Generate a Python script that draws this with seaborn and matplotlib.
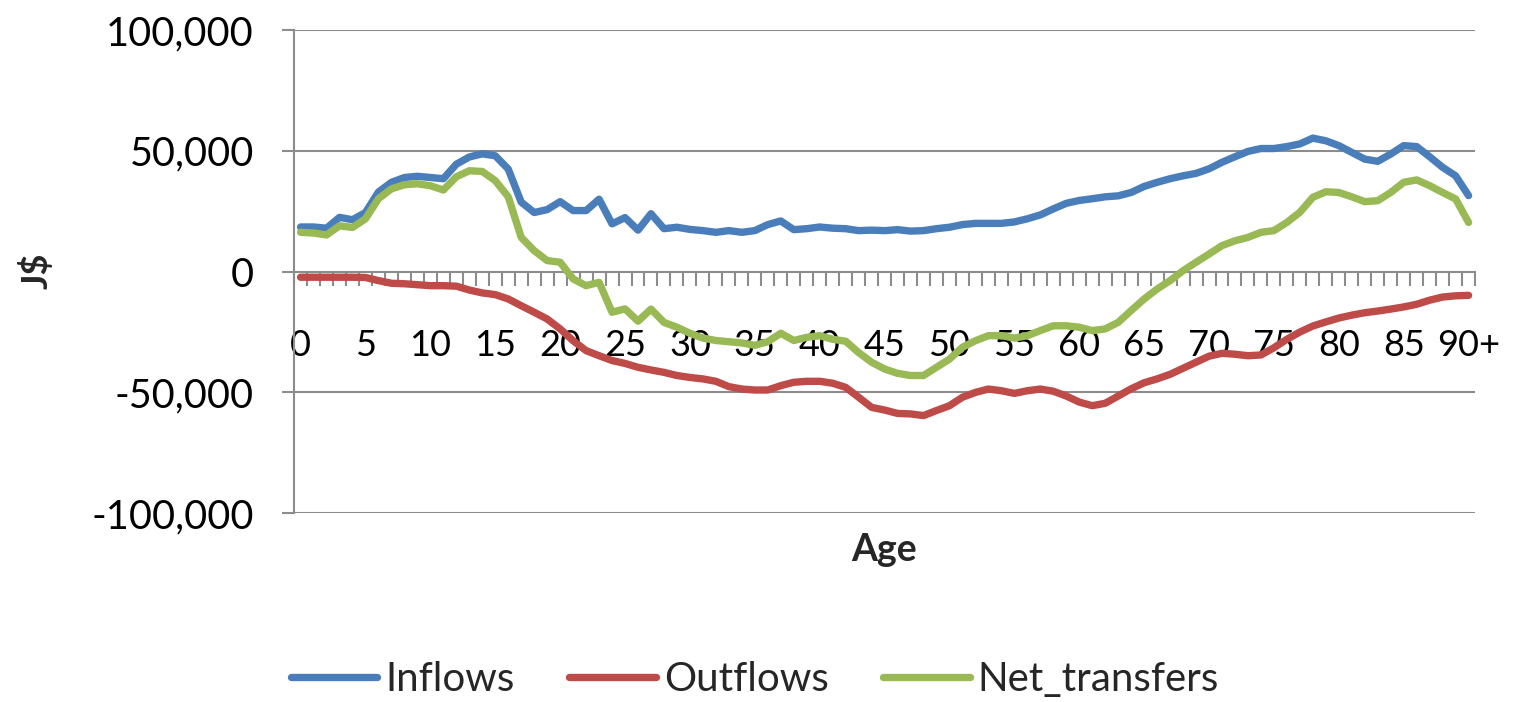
import matplotlib

matplotlib.use("Agg")

import matplotlib.pyplot as plt
import pandas as pd
import seaborn as sns
from matplotlib.lines import Line2D
from matplotlib.ticker import FuncFormatter

ages = list(range(91))
age_labels = [str(a) if a < 90 else "90+" for a in range(0, 91, 5)]

inflows = [
    18500, 18500, 18000, 22500, 21500, 24500, 33000, 37000, 39000, 39500,
    39000, 38500, 44500, 47500, 48800, 48000, 42500, 28800, 24500, 25700,
    29000, 25300, 25300, 30000, 19800, 22400, 17200, 24000, 17800, 18400,
    17500, 17000, 16300, 17000, 16300, 17000, 19500, 21000, 17400, 17800,
    18500, 18000, 17800, 17000, 17200, 17000, 17400, 16800, 17000, 17800,
    18400, 19500, 20000, 20000, 20000, 20600, 21900, 23500, 26000, 28300,
    29500, 30200, 31000, 31400, 32800, 35300, 37000, 38500, 39700, 40700,
    42600, 45300, 47600, 49800, 51000, 51000, 51800, 52900, 55300, 54200,
    52200, 49400, 46600, 45700, 48700, 52200, 51800, 47600, 43200, 39700,
    31500,
]
outflows = [
    -2300, -2300, -2300, -2300, -2300, -2400, -3700, -4800, -5000, -5400,
    -5800, -5800, -6000, -7600, -8800, -9500, -11300, -14100, -16800, -19600,
    -23700, -28600, -32700, -34800, -36800, -38000, -39600, -40700, -41700, -43000,
    -43800, -44400, -45400, -47600, -48600, -49000, -49000, -47200, -45800, -45400,
    -45400, -46200, -47900, -52000, -56200, -57300, -58700, -58900, -59600, -57500,
    -55500, -52000, -50000, -48600, -49300, -50400, -49300, -48600, -49500, -51500,
    -54000, -55500, -54500, -51500, -48500, -46000, -44400, -42500, -40000, -37500,
    -35000, -33800, -34200, -34800, -34500, -31500, -28000, -25000, -22500, -20800,
    -19200, -18000, -17000, -16300, -15500, -14600, -13500, -11800, -10500, -10000,
    -9800,
]
net_transfers = [
    16300, 16000, 15200, 19000, 18300, 21900, 30200, 34300, 36000, 36400,
    35600, 33800, 39300, 41800, 41500, 37700, 31000, 14200, 8700, 4600,
    3900, -3000, -5800, -4400, -16800, -15400, -20500, -15500, -21000, -23000,
    -25500, -27500, -28500, -29000, -29500, -30500, -29000, -25500, -28500, -27200,
    -26500, -28000, -28800, -33500, -37500, -40300, -42100, -43000, -43000, -39600,
    -36200, -31300, -28600, -26500, -26500, -27500, -26500, -24400, -22400, -22400,
    -23000, -24400, -23700, -21000, -16100, -11300, -7200, -3700, 400, 3900,
    7300, 10800, 12800, 14200, 16300, 17000, 20400, 24600, 30800, 33100,
    32800, 31000, 29000, 29400, 32800, 37000, 38000, 35600, 32800, 30100,
    20400,
]

series_names = ["Inflows", "Outflows", "Net_transfers"]
colors = ["#4A7EBB", "#BE4B48", "#98B954"]

df = pd.DataFrame({
    "age": ages * 3,
    "value": inflows + outflows + net_transfers,
    "series": [s for s in series_names for _ in ages],
})

sns.set_theme(style="white")
plt.rcParams["font.family"] = ["Lato", "DejaVu Sans"]
grid_color = "#8C8C8C"

fig = plt.figure(figsize=(15.16, 7.02), dpi=100)
ax = fig.add_axes([0.194, 0.269, 0.779, 0.688])

sns.lineplot(data=df, x="age", y="value", hue="series", hue_order=series_names,
             palette=colors, linewidth=5.3, legend=False, ax=ax)

ax.set_xlim(-0.5, 90.5)
ax.set_ylim(-100000, 100000)
ax.set_yticks(range(-100000, 100001, 50000))
ax.yaxis.set_major_formatter(FuncFormatter(lambda v, p: f"{int(v):,}"))
for yv in [-100000, -50000, 50000, 100000]:
    ax.axhline(yv, color=grid_color, lw=1.5, zorder=0)

ax.spines["top"].set_visible(False)
ax.spines["right"].set_visible(False)
ax.spines["left"].set_color(grid_color)
ax.spines["left"].set_linewidth(1.5)
ax.spines["bottom"].set_position(("data", 0))
ax.spines["bottom"].set_color(grid_color)
ax.spines["bottom"].set_linewidth(1.5)
ax.spines["bottom"].set_zorder(1)

ax.set_xticks(list(range(0, 91, 5)))
ax.set_xticklabels(age_labels)
ax.set_xticks([a - 0.5 for a in range(92)], minor=True)
ax.tick_params(axis="x", which="major", length=0, pad=41, labelsize=26, colors="black")
ax.tick_params(axis="x", which="minor", bottom=True, length=10, width=1.5, color=grid_color)
ax.tick_params(axis="y", which="major", left=True, length=9, width=1.5, color=grid_color,
               pad=20, labelsize=28.5, labelcolor="black")
ax.set_xlabel("")
ax.set_ylabel("")

fig.text(0.024, 0.614, "J$", rotation=90, ha="center", va="center",
         fontsize=26, fontweight="bold")
fig.text(0.583, 0.216, "Age", ha="center", va="center", fontsize=27, fontweight="bold")

handles = [Line2D([0], [0], color=c, lw=5.3, solid_capstyle="round") for c in colors]
fig.legend(handles, series_names, loc="center", bbox_to_anchor=(0.498, 0.032), ncol=3,
           frameon=False, fontsize=29, handlelength=2.15, handletextpad=0.2,
           columnspacing=1.35)

fig.savefig("out.png", dpi=100)
